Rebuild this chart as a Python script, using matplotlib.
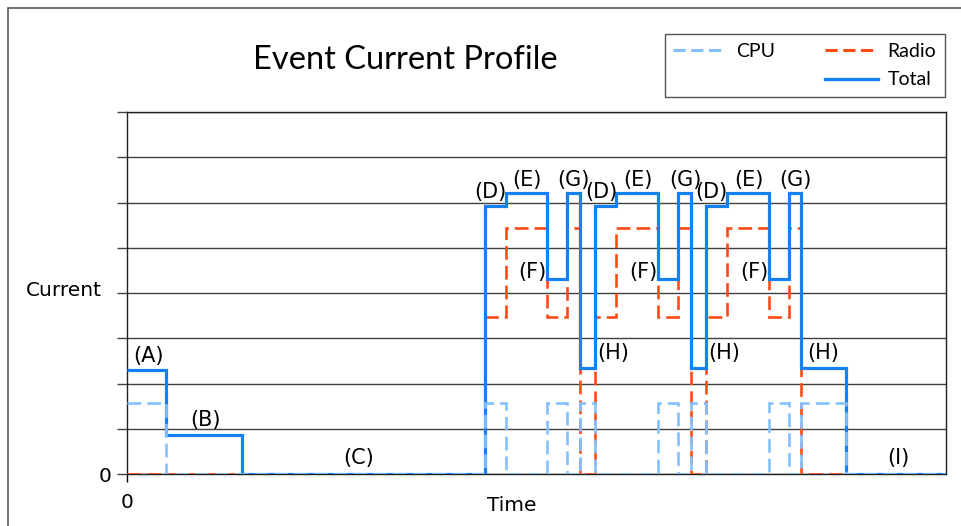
import matplotlib
matplotlib.use("Agg")
import matplotlib.pyplot as plt
from matplotlib.lines import Line2D
from matplotlib.patches import Rectangle

# step edges (time, arbitrary units) and levels of each series per segment
edges = [0, 39, 115, 358, 379, 420, 440, 453, 468, 489, 531, 551, 564,
         579, 600, 642, 662, 674, 719, 819]
total = [2.3, 0.86, 0, 5.92, 6.2, 4.3, 6.2, 2.35, 5.92, 6.2, 4.3, 6.2, 2.35,
         5.92, 6.2, 4.3, 6.2, 2.35, 0]
radio = [0, 0, 0, 3.48, 5.44, 3.48, 5.44, 0, 3.48, 5.44, 3.48, 5.44, 0,
         3.48, 5.44, 3.48, 5.44, 0, 0]
cpu = [1.58, 0, 0, 1.58, 0, 1.58, 0, 1.58, 0, 0, 1.58, 0, 1.58,
       0, 0, 1.58, 0, 1.58, 0]

# phase labels
phase_text = ["(A)", "(B)", "(C)",
              "(D)", "(E)", "(F)", "(G)", "(H)",
              "(D)", "(E)", "(F)", "(G)", "(H)",
              "(D)", "(E)", "(F)", "(G)", "(H)", "(I)"]
phase_x = [22, 79, 232,
           363, 400, 405, 446, 486,
           474, 511, 516, 558, 597,
           584, 622, 627, 668, 696, 771]
phase_y = [2.61, 1.19, 0.35,
           6.23, 6.5, 4.46, 6.5, 2.67,
           6.23, 6.5, 4.46, 6.5, 2.67,
           6.23, 6.5, 4.46, 6.5, 2.67, 0.35]

c_total = "#1580F0"
c_cpu = "#82C0FF"
c_radio = "#FF4A14"

fig = plt.figure(figsize=(9.62, 5.26), dpi=100)
ax = fig.add_axes([127 / 962, 1 - 474 / 526, 819 / 962, 362 / 526])

ax.stairs(radio, edges, baseline=None, color=c_radio, lw=1.9,
          linestyle=(0, (5.2, 2.3)), zorder=3)
ax.stairs(total, edges, baseline=None, color=c_total, lw=2.3, zorder=4)
ax.stairs(cpu, edges, baseline=None, color=c_cpu, lw=1.9,
          linestyle=(0, (5.2, 2.3)), zorder=5)

for t, x, y in zip(phase_text, phase_x, phase_y):
    ax.text(x, y, t, ha="center", va="center", fontsize=15, zorder=6)

ax.set_xlim(0, 819)
ax.set_ylim(0, 8)
ax.set_yticks(range(0, 9))
ax.set_yticklabels(["0", "", "", "", "", "", "", "", ""], fontsize=14.5)
ax.set_xticks([0])
ax.set_xticklabels(["0"], fontsize=14.5)
ax.tick_params(axis="y", length=7, width=1, color="#404040", pad=4)
ax.tick_params(axis="x", length=6, width=1, pad=8)
ax.grid(axis="y", color="#404040", lw=1)
ax.set_axisbelow(True)
for s in ax.spines.values():
    s.set_color("#202020")
    s.set_linewidth(1)

ax.set_ylabel("Current", rotation=0, fontsize=14.5, ha="center", va="center")
ax.yaxis.set_label_coords(-0.077, 0.506)
ax.set_xlabel("Time", fontsize=14.5, ha="center", va="center")
ax.xaxis.set_label_coords(0.47, -0.086)

fig.text(405 / 962, 1 - 60 / 526, "Event Current Profile", ha="center",
         va="center", fontsize=23.5, family="Lato")

handles = [Line2D([], [], color=c_cpu, lw=2.2, linestyle=(0, (4, 1.8))),
           Line2D([], [], alpha=0),
           Line2D([], [], color=c_radio, lw=2.2, linestyle=(0, (4, 1.8))),
           Line2D([], [], color=c_total, lw=2.4)]
labels = ["CPU", "", "Radio", "Total"]
fig.legend(handles, labels, ncol=2, loc="upper right",
           bbox_to_anchor=(945 / 962, 1 - 34 / 526), borderaxespad=0,
           fancybox=False, edgecolor="#555555", framealpha=1,
           prop={"family": "Lato", "size": 14}, handlelength=2.7,
           columnspacing=2.6, labelspacing=0.6, handletextpad=0.5,
           borderpad=0.45)

# outer frame of the figure
fig.patches.append(Rectangle((8 / 962, -0.1), 1.2, 1.1 - 8 / 526,
                             transform=fig.transFigure, fill=False,
                             edgecolor="#555555", lw=1.2))

fig.savefig("out.png", dpi=100)
